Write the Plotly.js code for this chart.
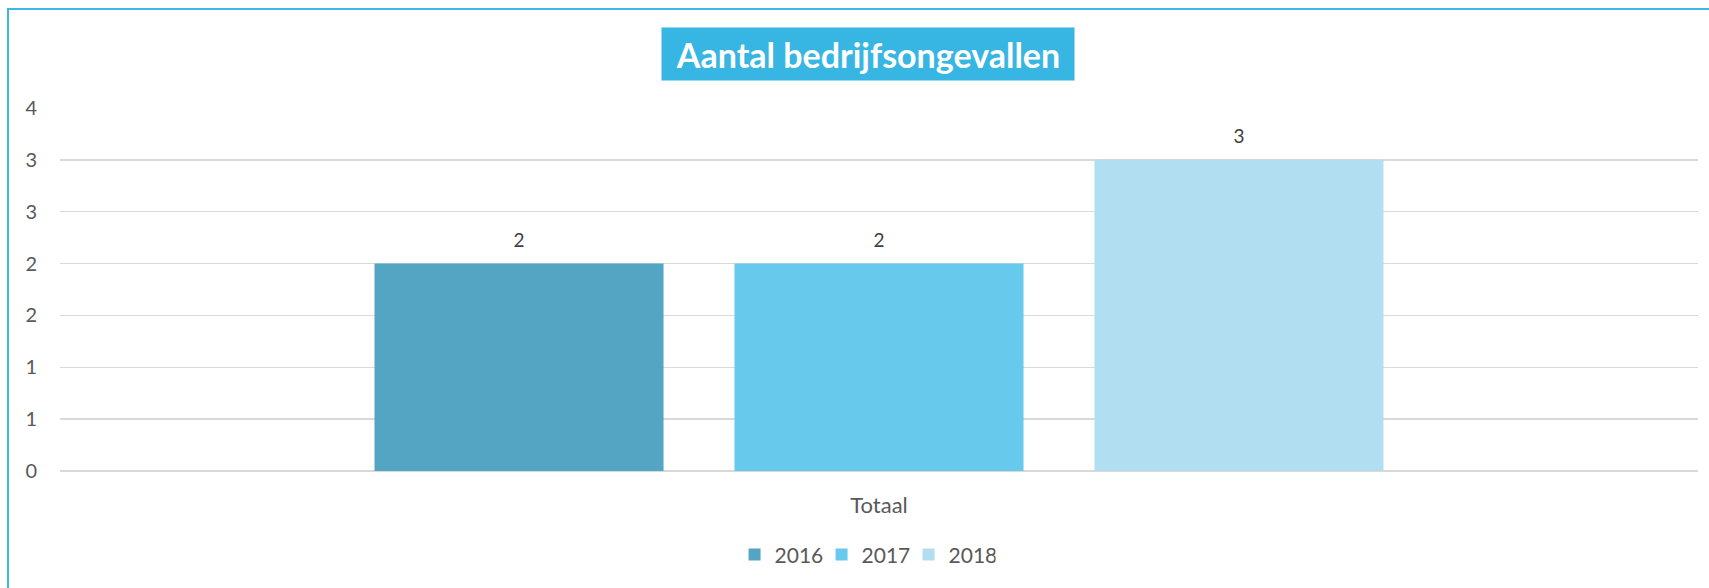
<!DOCTYPE html>
<html>
<head>
<meta charset="utf-8">
<script src="https://cdn.plot.ly/plotly-3.0.1.min.js"></script>
<style>
  html, body { margin: 0; padding: 0; background: #ffffff; }
  #wrap { position: relative; width: 1709px; height: 588px; overflow: hidden; }
  #chart { position: absolute; left: 0; top: 0; width: 1709px; height: 588px; }
  #frame { position: absolute; left: 7px; top: 8px; width: 1800px; height: 700px;
           border-left: 2px solid #3BB8E6; border-top: 2px solid #3BB8E6; pointer-events: none; }
</style>
</head>
<body>
<div id="wrap">
  <div id="chart"></div>
  <div id="frame"></div>
</div>
<script>
// ---- data ----
const categories = ['Totaal'];
const years = ['2016', '2017', '2018'];
const values2016 = [2];
const values2017 = [2];
const values2018 = [3];
const yTickVals = [0, 0.5, 1, 1.5, 2, 2.5, 3, 3.5];
const yTickText = ['0', '1', '1', '2', '2', '3', '3', '4'];
const chartTitle = 'Aantal bedrijfsongevallen';

const seriesValues = [values2016, values2017, values2018];
const colors = ['#53A5C3', '#67C9EC', '#B2DEF2'];

const traces = [];
years.forEach((yr, i) => {
  traces.push({
    type: 'bar', name: yr, x: categories, y: seriesValues[i],
    marker: { color: colors[i], line: { width: 0 } },
    offsetgroup: yr, hoverinfo: 'skip'
  });
});
// data labels as grouped scatter text traces
years.forEach((yr, i) => {
  traces.push({
    type: 'scatter', mode: 'markers+text', x: categories, y: seriesValues[i],
    text: seriesValues[i].map(v => String(v)), textposition: 'top center',
    textfont: { family: 'Lato, sans-serif', size: 19, color: '#404040' },
    marker: { size: 17, opacity: 0 },
    offsetgroup: yr, showlegend: false, hoverinfo: 'skip', cliponaxis: false
  });
});

const layout = {
  width: 1709, height: 588,
  margin: { l: 60, r: 11, t: 108, b: 117 },
  paper_bgcolor: '#ffffff', plot_bgcolor: '#ffffff',
  font: { family: 'Lato, sans-serif', color: '#595959', size: 20 },
  barmode: 'group', bargap: 0.3407, bargroupgap: 0.197,
  scattermode: 'group', scattergap: 0.3407,
  showlegend: true,
  legend: {
    orientation: 'h', x: 0.4915, xanchor: 'center', y: -0.231, yanchor: 'middle',
    font: { family: 'Lato, sans-serif', size: 21, color: '#595959' },
    entrywidth: 42, entrywidthmode: 'pixels', traceorder: 'normal'
  },
  xaxis: {
    type: 'category', showgrid: false, zeroline: false, showline: false,
    ticks: '', ticklabelstandoff: 19,
    tickfont: { family: 'Lato, sans-serif', size: 22, color: '#595959' }
  },
  yaxis: {
    range: [0, 3.5], tickvals: yTickVals, ticktext: yTickText,
    showgrid: true, gridcolor: '#D9D9D9', gridwidth: 1.4,
    zeroline: true, zerolinecolor: '#D9D9D9', zerolinewidth: 1.4,
    showline: false, ticks: '', ticklabelstandoff: 22,
    tickfont: { family: 'Lato, sans-serif', size: 20, color: '#595959' },
    fixedrange: true
  },
  annotations: [{
    text: '<b>' + chartTitle + '</b>',
    xref: 'paper', yref: 'paper', x: 0.4933, y: 1.148,
    xanchor: 'center', yanchor: 'middle', showarrow: false,
    bgcolor: '#37B6E3', width: 412, height: 52, borderpad: 0,
    font: { family: 'Lato, sans-serif', size: 34, color: '#ffffff' }
  }],
  hovermode: false
};

Plotly.newPlot('chart', traces, layout, { displayModeBar: false, staticPlot: true });
</script>
</body>
</html>
